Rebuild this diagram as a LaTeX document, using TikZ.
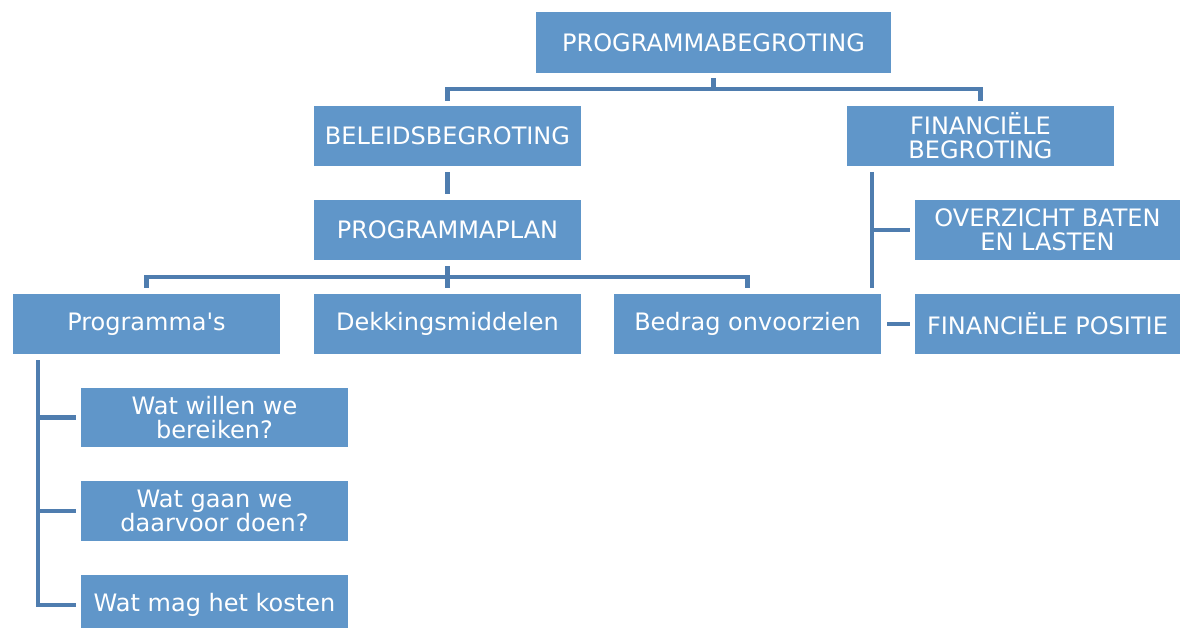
\documentclass[tikz,border=0pt]{standalone}
\usepackage{fontspec}
\setmainfont{DejaVu Sans}[Ligatures=TeXOff]
\definecolor{boxblue}{HTML}{6096C9}
\definecolor{lineblue}{HTML}{4F7DAF}
\begin{document}
\begin{tikzpicture}[x=1pt,y=-1pt,
  box/.style={fill=boxblue, draw=none, text=white, inner sep=0pt, align=center,
    font=\fontsize{24}{24}\selectfont, minimum height=60pt, minimum width=267pt},
  conn/.style={draw=lineblue, line width=4.5pt}]
\useasboundingbox (0,0) rectangle (1180,628);
\clip (0,0) rectangle (1180,628);

\node[box, minimum width=355pt, minimum height=61pt] (top) at (713.5,42.5) {PROGRAMMABEGROTING};
\node[box] (bel) at (447.5,136) {BELEIDSBEGROTING};
\node[box] (fin) at (980.5,136) {FINANCIËLE\\BEGROTING};
\node[box] (plan) at (447.5,230) {PROGRAMMAPLAN};
\node[box, minimum width=265pt] (ovz) at (1047.5,230) {OVERZICHT BATEN\\EN LASTEN};
\node[box] (prog) at (146.5,324) {Programma's};
\node[box] (dek) at (447.5,324) {Dekkingsmiddelen};
\node[box] (bed) at (747.5,324) {Bedrag onvoorzien};
\node[box, minimum width=265pt] (pos) at (1047.5,324) {FINANCIËLE POSITIE};
\node[box, minimum height=59pt] (w1) at (214.5,417.5) {Wat willen we\\bereiken?};
\node[box] (w2) at (214.5,511) {Wat gaan we\\daarvoor doen?};
\node[box] (w3) at (214.5,605) {Wat mag het kosten};

% top level
\coordinate (j1) at (713.5,89);
\draw[conn] ([yshift=-5pt]top.south) -- (j1);
\draw[conn] ([yshift=5pt]bel.north) |- (j1) -| ([yshift=5pt]fin.north);
% beleid -> plan
\draw[conn] ([yshift=-6pt]bel.south) -- ([yshift=6pt]plan.north);
% plan -> three
\coordinate (j2) at (447.5,277);
\draw[conn] ([yshift=-6pt]plan.south) -- (j2);
\draw[conn] ([yshift=6pt]prog.north) |- (j2) -| ([yshift=6pt]bed.north);
\draw[conn] (j2) -- ([yshift=6pt]dek.north);
% financiele
\coordinate (ftop) at (872,172);
\coordinate (fend) at (872,288);
\draw[conn] (ftop) -- (fend);
\draw[conn] (ftop |- ovz.west) -- ([xshift=-5pt]ovz.west);
\draw[conn] ([xshift=6pt]bed.east) -- ([xshift=-5pt]pos.west);
% programma's
\coordinate (pv) at (38,360);
\draw[conn] (pv) |- ([xshift=-5pt]w3.west);
\draw[conn] (pv |- w1.west) -- ([xshift=-5pt]w1.west);
\draw[conn] (pv |- w2.west) -- ([xshift=-5pt]w2.west);
\end{tikzpicture}
\end{document}
